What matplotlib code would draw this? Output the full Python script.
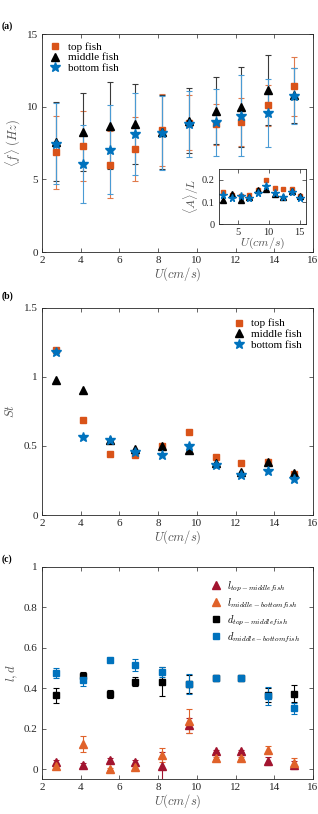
import numpy as np
import matplotlib
matplotlib.use("Agg")
import matplotlib.pyplot as plt

plt.rcParams['font.family'] = ['Liberation Serif', 'DejaVu Serif']
plt.rcParams['mathtext.fontset'] = 'cm'

# data
U = [2.7, 4.1, 5.5, 6.8, 8.2, 9.6, 11.0, 12.3, 13.7, 15.0]

f_top = [6.85, 7.3, 6.0, 7.1, 8.4, 8.9, 8.79, 8.95, 10.1, 11.39]
f_top_err = [2.5, 2.4, 2.3, 2.2, 2.45, 1.9, 1.4, 1.65, 1.4, 2.0]
f_mid = [7.6, 8.26, 8.7, 8.83, 8.28, 9.04, 9.73, 9.98, 11.16, 10.79]
f_mid_err = [2.7, 2.7, 3.0, 2.75, 2.55, 2.25, 2.3, 2.75, 2.4, 1.9]
f_bot = [7.45, 6.07, 7.05, 8.12, 8.21, 8.81, 8.93, 9.39, 9.55, 10.74]
f_bot_err = [2.8, 2.7, 3.05, 2.8, 2.55, 2.3, 2.3, 2.8, 2.35, 1.95]

A_top = [0.144, 0.13, 0.125, 0.133, 0.156, 0.2, 0.163, 0.161, 0.161, 0.126]
A_mid = [0.11, 0.136, 0.107, 0.121, 0.154, 0.158, 0.138, 0.121, 0.15, 0.129]
A_bot = [0.13, 0.12, 0.129, 0.117, 0.141, 0.173, 0.139, 0.123, 0.147, 0.12]

St_top = [1.19, 0.688, 0.442, 0.437, 0.5, 0.597, 0.423, 0.377, 0.38, 0.297]
St_mid = [0.978, 0.906, 0.543, 0.48, 0.5, 0.471, 0.374, 0.314, 0.384, 0.307]
St_bot = [1.176, 0.563, 0.543, 0.459, 0.435, 0.502, 0.362, 0.292, 0.319, 0.261]

l_tm = [0.035, 0.02, 0.045, 0.035, 0.015, 0.216, 0.09, 0.09, 0.04, 0.021]
l_tm_err = [0.01, 0.01, 0.008, 0.01, 0.07, 0.035, 0.005, 0.005, 0.02, 0.02]
l_mb = [0.015, 0.125, 0.003, 0.01, 0.07, 0.237, 0.054, 0.054, 0.095, 0.033]
l_mb_err = [0.01, 0.04, 0.005, 0.008, 0.035, 0.06, 0.005, 0.005, 0.02, 0.022]
d_tm = [0.364, 0.46, 0.372, 0.433, 0.433, 0.42, 0.451, 0.451, 0.365, 0.372]
d_tm_err = [0.037, 0.02, 0.02, 0.02, 0.07, 0.045, 0.008, 0.008, 0.035, 0.042]
d_mb = [0.475, 0.44, 0.541, 0.515, 0.48, 0.421, 0.451, 0.451, 0.36, 0.302]
d_mb_err = [0.025, 0.03, 0.006, 0.03, 0.025, 0.05, 0.008, 0.008, 0.045, 0.027]

orange = '#D95319'
blue = '#0072BD'
dred = '#A2142F'
lorange = '#E0622A'
framec = '#262626'
labc = '#555555'

xlab = r'$U(cm/s)$'


def style(ax, size=8):
    ax.tick_params(direction='in', top=True, right=True, labelsize=size,
                   colors=framec, length=3, width=0.5, pad=3)
    for s in ax.spines.values():
        s.set_linewidth(0.6)
        s.set_color(framec)


fig = plt.figure(figsize=(3.18, 8.14), dpi=100)

# (a)
ax1 = fig.add_axes([0.132, 0.6904, 0.852, 0.2678])
ek = dict(linestyle='none', elinewidth=0.8, capsize=2, capthick=0.8)
ax1.errorbar(U, f_top, yerr=f_top_err, fmt='s', color=orange, ms=4.5,
             ecolor='#e07a4c', label='top fish', **ek)
ax1.errorbar(U, f_mid, yerr=f_mid_err, fmt='^', color='black', ms=5.5,
             ecolor='#3a3a3a', label='middle fish', **ek)
ax1.errorbar(U, f_bot, yerr=f_bot_err, fmt='*', color=blue, ms=7,
             ecolor='#4a9bd4', label='bottom fish', **ek)
ax1.set_xlim(2, 16)
ax1.set_ylim(0, 15)
ax1.set_xticks(range(2, 17, 2))
ax1.set_yticks([0, 5, 10, 15])
ax1.set_xlabel(xlab, fontsize=9, color=labc, labelpad=0)
ax1.set_ylabel(r'$\langle f\rangle\ (Hz)$', fontsize=9, color=labc, labelpad=3)
style(ax1)
h, lb = ax1.get_legend_handles_labels()
h = [x[0] for x in h]
ax1.legend(h, lb, loc='upper left', frameon=False, fontsize=8, handlelength=1,
           handletextpad=0.6, labelspacing=0.1, borderaxespad=0.3)
fig.text(0.005, 1 - 26 / 814, '(a)', fontsize=7, fontweight='bold', va='center')

# inset
axi = fig.add_axes([0.6887, 0.7248, 0.2736, 0.0676])
axi.plot(U, A_top, 's', color=orange, ms=3.5, linestyle='none')
axi.plot(U, A_mid, '^', color='black', ms=4.5, linestyle='none')
axi.plot(U, A_bot, '*', color=blue, ms=5.5, linestyle='none')
axi.set_xlim(2, 16)
axi.set_ylim(0, 0.25)
axi.set_xticks([5, 10, 15])
axi.set_yticks([0, 0.1, 0.2])
axi.set_yticklabels(['0', '0.1', '0.2'])
axi.set_xlabel(xlab, fontsize=8.5, color=labc, labelpad=-1)
axi.set_ylabel(r'$\langle A\rangle/L$', fontsize=8.5, color=labc, labelpad=1)
style(axi, 7.5)

# (b)
ax2 = fig.add_axes([0.132, 0.3673, 0.852, 0.2549])
ax2.plot(U, St_top, 's', color=orange, ms=4.5, linestyle='none', label='top fish')
ax2.plot(U, St_mid, '^', color='black', ms=5.5, linestyle='none', label='middle fish')
ax2.plot(U, St_bot, '*', color=blue, ms=7, linestyle='none', label='bottom fish')
ax2.set_xlim(2, 16)
ax2.set_ylim(0, 1.5)
ax2.set_xticks(range(2, 17, 2))
ax2.set_yticks([0, 0.5, 1, 1.5])
ax2.set_yticklabels(['0', '0.5', '1', '1.5'])
ax2.set_xlabel(xlab, fontsize=9, color=labc, labelpad=0)
ax2.set_ylabel(r'$St$', fontsize=9, color=labc, labelpad=5)
style(ax2)
ax2.legend(loc='upper right', frameon=False, fontsize=8, handlelength=1,
           handletextpad=0.6, labelspacing=0.1, borderaxespad=0.6)
fig.text(0.005, 1 - 296 / 814, '(b)', fontsize=7, fontweight='bold', va='center')

# (c)
ax3 = fig.add_axes([0.132, 0.0426, 0.852, 0.2612])
ek3 = dict(linestyle='none', elinewidth=0.8, capsize=2, capthick=0.8)
ax3.errorbar(U, l_tm, yerr=l_tm_err, fmt='^', color=dred, ms=5.5,
             label=r'$l_{top-middle fish}$', **ek3)
ax3.errorbar(U, l_mb, yerr=l_mb_err, fmt='^', color=lorange, ms=5.5,
             label=r'$l_{middle-bottom fish}$', **ek3)
ax3.errorbar(U, d_tm, yerr=d_tm_err, fmt='s', color='black', ms=4.5,
             label=r'$d_{top-middle fish}$', **ek3)
ax3.errorbar(U, d_mb, yerr=d_mb_err, fmt='s', color=blue, ms=4.5,
             label=r'$d_{middle-bottom fish}$', **ek3)
ax3.set_xlim(2, 16)
ax3.set_ylim(-0.05, 1)
ax3.set_xticks(range(2, 17, 2))
ax3.set_yticks([0, 0.2, 0.4, 0.6, 0.8, 1])
ax3.set_yticklabels(['0', '0.2', '0.4', '0.6', '0.8', '1'])
ax3.set_xlabel(xlab, fontsize=9, color=labc, labelpad=0)
ax3.set_ylabel(r'$l,d$', fontsize=9, color=labc, labelpad=3)
style(ax3)
h, lb = ax3.get_legend_handles_labels()
h = [x[0] for x in h]
ax3.legend(h, lb, loc='upper right', frameon=False, fontsize=7.5, handlelength=1,
           handletextpad=0.6, labelspacing=0.25, borderaxespad=0.8)
fig.text(0.005, 1 - 559 / 814, '(c)', fontsize=7, fontweight='bold', va='center')

fig.savefig('out.png', dpi=100)
